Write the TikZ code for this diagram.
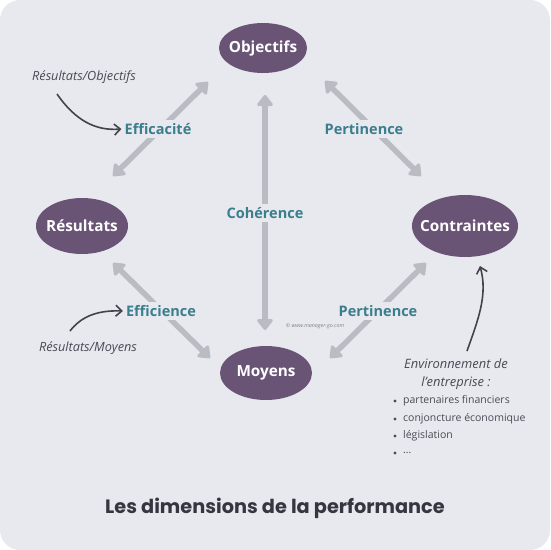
\documentclass[tikz,border=0pt]{standalone}
\usepackage{fontspec}
\setmainfont{Open Sans}
\newfontfamily\titlefont{Poppins}
\usetikzlibrary{arrows.meta,shapes.geometric}
\definecolor{bg}{HTML}{E7E9EE}
\definecolor{purp}{HTML}{6A5476}
\definecolor{teal}{HTML}{3B7E8D}
\definecolor{garrow}{HTML}{B9BCC3}
\definecolor{dtext}{HTML}{4A4A56}
\definecolor{ttext}{HTML}{363640}
\newcommand{\zb}[1]{\makebox[0pt]{#1}}
\begin{document}
\begin{tikzpicture}[x=1pt,y=-1pt,
  elli/.style={ellipse,fill=purp,text=white,font=\fontsize{15.3}{17}\selectfont\bfseries,inner sep=0pt},
  big/.style={garrow,line width=5.5pt,line cap=round,
    {Triangle[length=12pt,width=18pt,round]}-{Triangle[length=12pt,width=18pt,round]}},
  lbl/.style={fill=bg,text=teal,font=\fontsize{14.5}{16}\selectfont\bfseries,inner sep=3pt},
  note/.style={text=dtext,font=\fontsize{12.7}{14}\selectfont\itshape},
  ann/.style={dtext!90!black,line width=1.6pt,-{Straight Barb[length=6pt,width=11pt,line width=1.6pt]}},
  bul/.style={text=dtext,font=\fontsize{10.5}{12}\selectfont,anchor=west,inner sep=0pt}
]
\useasboundingbox (0,0) rectangle (550,550);
\fill[white] (0,0) rectangle (550,550);
\fill[bg,rounded corners=20pt] (0,0) rectangle (550,550);

% ellipses
\node[elli,minimum width=88pt,minimum height=50pt] (obj) at (263,48) {\zb{Objectifs}};
\node[elli,minimum width=92pt,minimum height=56pt] (res) at (82,226) {\zb{Résultats}};
\node[elli,minimum width=106pt,minimum height=62pt] (con) at (465,226) {\zb{Contraintes}};
\node[elli,minimum width=92pt,minimum height=54pt] (moy) at (266,373) {\zb{Moyens}};

% arrow end points
\coordinate (a1) at (113,176);
\coordinate (a2) at (208,82);
\coordinate (b1) at (325,81);
\coordinate (b2) at (421,176);
\coordinate (c1) at (265,95);
\coordinate (c2) at (265,330);
\coordinate (d1) at (113,263);
\coordinate (d2) at (210,358);
\coordinate (e1) at (426,263);
\coordinate (e2) at (330,358);

\draw[big] (a1) -- (a2);
\draw[big] (b1) -- (b2);
\draw[big] (c1) -- (c2);
\draw[big] (d1) -- (d2);
\draw[big] (e1) -- (e2);

\node[lbl] (eff) at (158,129) {Efficacité};
\node[lbl] (per1) at (364,129) {Pertinence};
\node[lbl] (coh) at (265,213) {Cohérence};
\node[lbl] (efi) at (161,311) {Efficience};
\node[lbl] (per2) at (378,311) {Pertinence};

\node[text=gray,font=\fontsize{5.3}{6}\selectfont\itshape] (copy) at (315,326) {© www.manager-go.com};

% notes
\node[note] (n1) at (84,77) {Résultats/Objectifs};
\node[note] (n2) at (88,348) {Résultats/Moyens};
\node[note,align=center,font=\fontsize{12.9}{18}\selectfont\itshape] (n3) at (456,374) {Environnement de\\l’entreprise :};

\coordinate (s1) at (57,94);
\coordinate (s2) at (70,331);
\coordinate (s3) at (467,351);
\coordinate (t3) at (480,266);
\draw[ann] (s1) .. controls (75,120) and (95,131) .. (eff.west);
\draw[ann] (s2) .. controls (80,318) and (95,310) .. (efi.west);
\draw[ann] (s3) .. controls (478,320) and (488,295) .. (t3);

% bullets
\fill[dtext] (395,401) circle (1.7pt);
\node[bul] (b1) at (403,401) {partenaires financiers};
\fill[dtext] (395,419) circle (1.7pt);
\node[bul] (b2) at (403,419) {conjoncture économique};
\fill[dtext] (395,436) circle (1.7pt);
\node[bul] (b3) at (403,436) {législation};
\fill[dtext] (395,453) circle (1.7pt);
\node[bul] (b4) at (403,453) {\dots};

\node[text=ttext,font=\titlefont\fontsize{19.3}{22}\selectfont\bfseries] (title) at (275,508) {Les dimensions de la performance};
\end{tikzpicture}
\end{document}
